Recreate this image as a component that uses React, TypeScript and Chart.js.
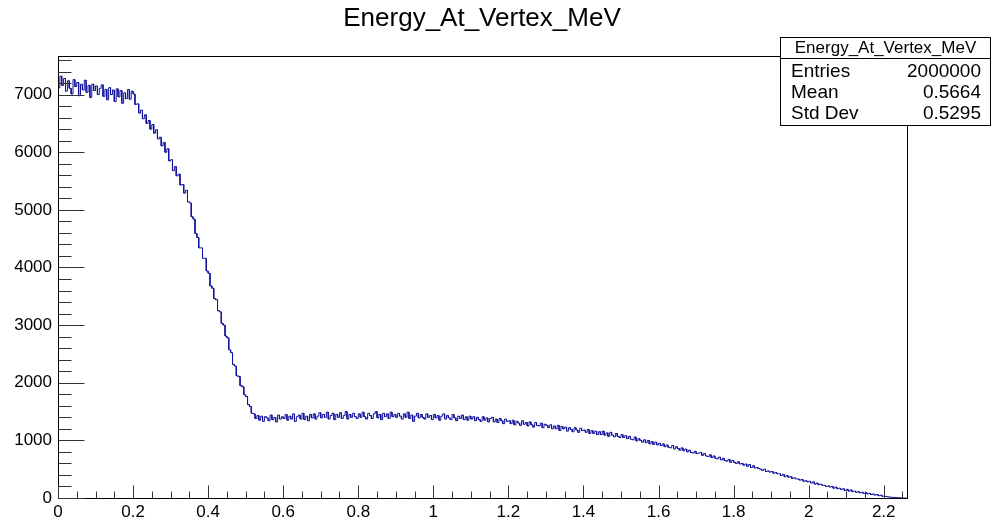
import React, { useEffect, useRef } from "react";
import { Chart, registerables } from "chart.js";

Chart.register(...registerables);

const TITLE = "Energy_At_Vertex_MeV";
const STATS_LABELS = ["Entries", "Mean", "Std Dev"];
const STATS_VALUES = ["2000000", "0.5664", "0.5295"];

const BIN_WIDTH = 0.005;
const X_MAX = 2.262;
const Y_MAX = 7670;
const X_TICKS = [0, 0.2, 0.4, 0.6, 0.8, 1, 1.2, 1.4, 1.6, 1.8, 2, 2.2];
const Y_TICKS = [0, 1000, 2000, 3000, 4000, 5000, 6000, 7000];

// bin contents, one value per 0.005 MeV bin starting at 0
const COUNTS = [
  7120, 7320, 7160, 7280, 7060, 7240, 7110, 7010, 7260, 7140, 7210, 6980, 7180, 7080, 7250, 7040, 7160, 6950, 7180, 7070,
  7150, 7000, 7110, 7170, 6970, 7090, 6910, 7120, 7000, 7080, 6880, 7100, 6960, 7070, 6850, 7030, 6930, 7090, 6920, 7060,
  7010, 6830, 6840, 6680, 6730, 6580, 6650, 6500, 6550, 6400, 6480, 6330, 6390, 6230, 6260, 6110, 6170, 6000, 6060, 5850,
  5870, 5680, 5750, 5590, 5620, 5430, 5440, 5290, 5340, 5140, 5120, 4880, 4840, 4590, 4520, 4340, 4340, 4160, 4160, 3940,
  3900, 3680, 3640, 3460, 3440, 3250, 3230, 3030, 3000, 2810, 2780, 2570, 2520, 2320, 2290, 2120, 2110, 1950, 1930, 1790,
  1760, 1620, 1590, 1470, 1460, 1380, 1430, 1350, 1420, 1330, 1410, 1390, 1340, 1440, 1360, 1400, 1320, 1440, 1370, 1410,
  1380, 1450, 1350, 1420, 1370, 1460, 1330, 1410, 1440, 1370, 1470, 1360, 1420, 1340, 1450, 1390, 1460, 1370, 1420, 1480,
  1390, 1450, 1400, 1490, 1370, 1430, 1470, 1360, 1450, 1400, 1480, 1380, 1430, 1500, 1370, 1450, 1400, 1470, 1410, 1380,
  1460, 1400, 1490, 1410, 1370, 1470, 1430, 1380, 1460, 1500, 1390, 1450, 1360, 1470, 1410, 1460, 1380, 1490, 1410, 1450,
  1400, 1470, 1420, 1370, 1460, 1400, 1490, 1380, 1440, 1330, 1420, 1470, 1390, 1450, 1400, 1370, 1460, 1400, 1430, 1360,
  1450, 1390, 1430, 1350, 1420, 1460, 1370, 1430, 1390, 1360, 1450, 1390, 1340, 1420, 1380, 1440, 1360, 1410, 1350, 1420,
  1370, 1410, 1340, 1400, 1360, 1330, 1410, 1350, 1390, 1320, 1380, 1400, 1320, 1370, 1310, 1380, 1340, 1290, 1370, 1330,
  1340, 1290, 1350, 1270, 1330, 1300, 1260, 1340, 1280, 1310, 1250, 1320, 1270, 1230, 1310, 1260, 1250, 1300, 1220, 1280,
  1260, 1220, 1270, 1200, 1250, 1200, 1260, 1170, 1240, 1200, 1230, 1160, 1220, 1190, 1150, 1220, 1180, 1140, 1210, 1170,
  1180, 1140, 1190, 1120, 1170, 1120, 1160, 1100, 1150, 1100, 1160, 1090, 1130, 1070, 1140, 1090, 1060, 1120, 1070, 1050,
  1100, 1050, 1080, 1030, 1070, 1020, 1010, 1060, 990, 1030, 1000, 970, 1010, 960, 1000, 940, 980, 930, 970, 920,
  950, 910, 940, 890, 920, 880, 870, 910, 850, 890, 860, 830, 870, 820, 850, 800, 830, 790, 780, 810,
  770, 780, 790, 740, 770, 730, 720, 750, 700, 730, 690, 680, 710, 660, 690, 650, 640, 670, 620, 650,
  620, 600, 630, 590, 600, 570, 590, 550, 580, 530, 560, 520, 530, 510, 500, 480, 500, 460, 470, 450,
  460, 430, 440, 420, 420, 390, 410, 370, 390, 360, 370, 340, 350, 330, 330, 310, 320, 290, 300, 280,
  290, 260, 280, 240, 260, 230, 240, 220, 220, 200, 210, 190, 200, 170, 190, 160, 170, 150, 160, 130,
  150, 120, 140, 110, 120, 100, 110, 90, 100, 80, 90, 70, 80, 60, 70, 50, 60, 40, 50, 30,
  30, 25, 20, 15, 12, 10, 7, 5, 3, 1, 0, 0,
];

const FONT = '"Liberation Sans", Arial, Helvetica, sans-serif';

function fmtX(v: number): string {
  return String(Math.round(v * 10) / 10);
}

const rootPlugin = {
  id: "rootDecor",
  afterDraw(chart: any) {
    const ctx = chart.ctx as CanvasRenderingContext2D;
    const area = chart.chartArea;
    const xs = chart.scales.x;
    const ys = chart.scales.y;
    ctx.save();
    // frame
    const l = Math.round(area.left) + 0.5;
    const r = Math.round(area.right) + 0.5;
    const t = Math.round(area.top) + 0.5;
    const b = Math.round(area.bottom) + 0.5;
    ctx.strokeStyle = "#000";
    ctx.lineWidth = 1;
    ctx.strokeRect(l, t, r - l, b - t);
    // ticks
    ctx.strokeStyle = "#333";
    ctx.beginPath();
    for (let k = 0; k <= 45; k++) {
      const v = k * 0.05;
      if (v > X_MAX) break;
      const px = Math.round(xs.getPixelForValue(v)) + 0.5;
      const len = k % 4 === 0 ? 13 : 7;
      ctx.moveTo(px, b);
      ctx.lineTo(px, b - len);
    }
    for (let k = 0; k <= 38; k++) {
      const v = k * 200;
      if (v > Y_MAX) break;
      const py = Math.round(ys.getPixelForValue(v)) + 0.5;
      const len = k % 5 === 0 ? 26 : 13;
      ctx.moveTo(l, py);
      ctx.lineTo(l + len, py);
    }
    ctx.stroke();
    // title
    ctx.fillStyle = "#000";
    ctx.font = `26px ${FONT}`;
    ctx.textAlign = "center";
    ctx.textBaseline = "middle";
    ctx.fillText(TITLE, 482, 19);
    // stats box
    const bx = 780.5, by = 37.5, bw = 210, bh = 88;
    ctx.fillStyle = "#fff";
    ctx.fillRect(bx, by, bw, bh);
    ctx.strokeStyle = "#000";
    ctx.strokeRect(bx, by, bw, bh);
    ctx.beginPath();
    ctx.moveTo(bx, 58.5);
    ctx.lineTo(bx + bw, 58.5);
    ctx.stroke();
    ctx.fillStyle = "#000";
    ctx.font = `17px ${FONT}`;
    ctx.textAlign = "center";
    ctx.fillText(TITLE, bx + bw / 2, 48);
    ctx.font = `19px ${FONT}`;
    STATS_LABELS.forEach((lab, i) => {
      const yy = 72 + i * 21;
      ctx.textAlign = "left";
      ctx.fillText(lab, 791, yy);
      ctx.textAlign = "right";
      ctx.fillText(STATS_VALUES[i], 981, yy);
    });
    ctx.restore();
  },
};

export default function App() {
  const ref = useRef<HTMLCanvasElement | null>(null);
  useEffect(() => {
    if (!ref.current) return;
    const pts: { x: number; y: number }[] = [];
    COUNTS.forEach((c, i) => {
      pts.push({ x: i * BIN_WIDTH, y: c });
      pts.push({ x: (i + 1) * BIN_WIDTH, y: c });
    });
    const chart = new Chart(ref.current, {
      type: "line",
      data: {
        datasets: [
          {
            data: pts,
            borderColor: "#10109c",
            borderWidth: 1,
            pointRadius: 0,
            tension: 0,
            fill: false,
          },
        ],
      },
      options: {
        animation: false,
        responsive: false,
        parsing: false,
        layout: { padding: { left: 0, top: 56, right: 91, bottom: 0 } },
        plugins: { legend: { display: false }, title: { display: false }, tooltip: { enabled: false } },
        scales: {
          x: {
            type: "linear",
            min: 0,
            max: X_MAX,
            afterBuildTicks: (s: any) => {
              s.ticks = X_TICKS.map((v) => ({ value: v }));
            },
            afterFit: (s: any) => {
              s.height = 24;
            },
            grid: { display: false, drawTicks: false },
            border: { display: false },
            ticks: {
              autoSkip: false,
              maxRotation: 0,
              padding: 4,
              color: "#000",
              font: { family: FONT, size: 17 },
              callback: (v: any) => fmtX(Number(v)),
            },
          },
          y: {
            type: "linear",
            min: 0,
            max: Y_MAX,
            afterBuildTicks: (s: any) => {
              s.ticks = Y_TICKS.map((v) => ({ value: v }));
            },
            afterFit: (s: any) => {
              s.width = 58;
            },
            grid: { display: false, drawTicks: false },
            border: { display: false },
            ticks: {
              autoSkip: false,
              padding: 6,
              color: "#000",
              font: { family: FONT, size: 17 },
              callback: (v: any) => String(v),
            },
          },
        },
      },
      plugins: [rootPlugin],
    });
    return () => chart.destroy();
  }, []);
  return (
    <div style={{ position: "fixed", left: 0, top: 0, width: 998, height: 522, background: "#fff" }}>
      <canvas ref={ref} width={998} height={522} style={{ display: "block", width: 998, height: 522 }} />
    </div>
  );
}
